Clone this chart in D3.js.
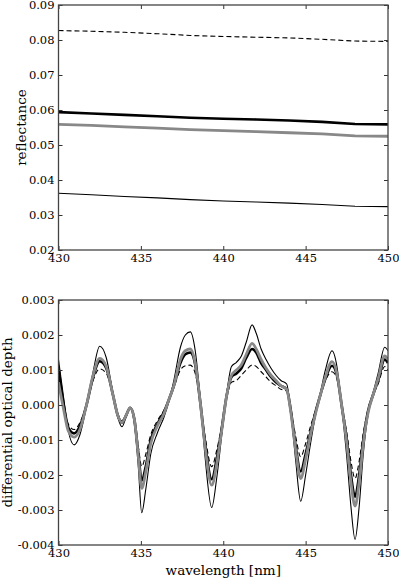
<!DOCTYPE html>
<html>
<head>
<meta charset="utf-8">
<script src="https://cdn.jsdelivr.net/npm/d3@7"></script>
<style>
  body { margin: 0; background: #fff; }
  svg text { font-family: "DejaVu Serif", serif; fill: #000; }
</style>
</head>
<body>
<script>
// ---- data: top panel (reflectance) ----
const reflWl = [430, 432, 434, 436, 438, 440, 442, 444, 446, 448, 450];
const reflDashed = [0.0827, 0.0825, 0.0822, 0.0818, 0.0813, 0.0810, 0.0808, 0.0806, 0.0802, 0.0797, 0.0796];
const reflThick = [0.0594, 0.0590, 0.0586, 0.0582, 0.0578, 0.0575, 0.0573, 0.0570, 0.0566, 0.0560, 0.0559];
const reflGray = [0.0559, 0.0556, 0.0552, 0.0548, 0.0544, 0.0541, 0.0538, 0.0535, 0.0532, 0.0526, 0.0525];
const reflThin = [0.0362, 0.0358, 0.0353, 0.0349, 0.0344, 0.0340, 0.0337, 0.0334, 0.0330, 0.0325, 0.0324];

// ---- data: bottom panel (differential optical depth, in units of 1e-3) ----
const odWl = [430.0, 430.3, 430.6, 430.95, 431.3, 431.7, 432.1, 432.5, 432.9, 433.3, 433.6, 433.85,
  434.1, 434.35, 434.6, 434.85, 435.05, 435.3, 435.6, 436.0, 436.4, 436.7, 437.0, 437.4, 437.7,
  438.0, 438.3, 438.6, 438.9, 439.3, 439.6, 439.9, 440.2, 440.5, 440.8, 441.1, 441.4, 441.75,
  442.0, 442.3, 442.6, 442.9, 443.2, 443.5, 443.85, 444.1, 444.4, 444.7, 445.0, 445.3, 445.6,
  445.9, 446.2, 446.6, 446.9, 447.2, 447.5, 447.75, 448.0, 448.25, 448.5, 448.8, 449.1, 449.4,
  449.8, 450.0];
const odThin = [1.30, 0.25, -0.75, -1.14, -0.85, -0.05, 0.95, 1.68, 1.35, 0.35, -0.35, -0.62,
  -0.35, -0.07, -0.5, -1.8, -3.08, -2.4, -1.4, -0.8, -0.35, 0.1, 0.7, 1.65, 2.0,
  2.09, 1.55, 0.2, -1.5, -2.93, -2.1, -0.9, 0.3, 1.1, 1.22, 1.4, 1.8, 2.29,
  2.05, 1.6, 1.3, 1.05, 0.85, 0.7, 0.6, -0.2, -1.6, -2.75, -2.0, -1.1, -0.3,
  0.35, 1.0, 1.55, 1.1, -0.1, -1.5, -2.9, -3.84, -2.9, -1.4, -0.25, 0.35, 0.9,
  1.65, 1.55];
const odGray = [0.65, -0.1, -0.75, -0.92, -0.7, 0.0, 0.85, 1.33, 1.1, 0.3, -0.3, -0.5,
  -0.3, -0.08, -0.4, -1.5, -2.38, -1.9, -1.1, -0.6, -0.25, 0.15, 0.55, 1.3, 1.55,
  1.6, 1.2, 0.1, -1.2, -2.29, -1.7, -0.75, 0.25, 0.85, 1.0, 1.15, 1.45, 1.76,
  1.6, 1.3, 1.05, 0.85, 0.7, 0.55, 0.45, -0.2, -1.3, -2.1, -1.55, -0.85, -0.25,
  0.3, 0.8, 1.24, 0.9, -0.05, -1.1, -2.2, -2.89, -2.2, -1.1, -0.2, 0.3, 0.75,
  1.4, 1.3];
const odThick = [1.05, 0.05, -0.65, -0.81, -0.6, 0.0, 0.8, 1.25, 1.05, 0.3, -0.3, -0.5,
  -0.3, -0.08, -0.4, -1.4, -2.16, -1.75, -1.0, -0.55, -0.2, 0.15, 0.55, 1.2, 1.45,
  1.5, 1.15, 0.1, -1.1, -2.12, -1.55, -0.7, 0.25, 0.8, 0.9, 1.05, 1.35, 1.6,
  1.5, 1.2, 1.0, 0.8, 0.65, 0.55, 0.45, -0.15, -1.2, -1.9, -1.4, -0.8, -0.2,
  0.3, 0.75, 1.12, 0.85, -0.05, -1.0, -2.0, -2.62, -2.0, -1.0, -0.15, 0.3, 0.7,
  1.3, 1.2];
const odDashed = [0.9, 0.0, -0.55, -0.7, -0.5, 0.0, 0.7, 1.03, 0.9, 0.3, -0.25, -0.45,
  -0.28, -0.08, -0.35, -1.2, -1.76, -1.4, -0.85, -0.45, -0.15, 0.15, 0.5, 1.0, 1.12,
  1.14, 0.9, 0.05, -0.9, -1.76, -1.3, -0.6, 0.2, 0.65, 0.7, 0.85, 1.0, 1.14,
  1.1, 0.95, 0.8, 0.65, 0.55, 0.45, 0.4, -0.1, -0.9, -1.48, -1.1, -0.6, -0.15,
  0.3, 0.7, 0.95, 0.75, 0.0, -0.8, -1.6, -2.1, -1.6, -0.8, -0.1, 0.3, 0.6,
  1.1, 1.0];

const xTicks = [430, 435, 440, 445, 450];
const reflTicks = [0.02, 0.03, 0.04, 0.05, 0.06, 0.07, 0.08, 0.09];
const odTicks = [-0.004, -0.003, -0.002, -0.001, 0, 0.001, 0.002, 0.003];

const width = 399, height = 579;
const left = 58.5, right = 388;

const svg = d3.select("body").append("svg")
    .attr("width", width)
    .attr("height", height);

const styles = {
    thin:   {stroke: "#000", width: 1.1, dash: null},
    thick:  {stroke: "#000", width: 2.6, dash: null},
    gray:   {stroke: "#888", width: 2.8, dash: null},
    dashed: {stroke: "#000", width: 1.1, dash: "5,3"}
};

function panel(top, bottom, yDomain, yTicks, yFmt, ylabel, series, wl, curve) {
    let x = d3.scaleLinear().domain([430, 450]).range([left, right]);
    let y = d3.scaleLinear().domain(yDomain).range([bottom, top]);

    let g = svg.append("g");

    g.append("defs").append("clipPath")
        .attr("id", "clip" + top)
        .append("rect")
        .attr("x", left).attr("y", top)
        .attr("width", right - left).attr("height", bottom - top);

    let line = d3.line()
        .x(function (d) { return x(d[0]); })
        .y(function (d) { return y(d[1]); })
        .curve(curve);

    let lines = g.append("g").attr("clip-path", "url(#clip" + top + ")");
    series.forEach(function (s) {
        let st = styles[s.style];
        lines.append("path")
            .datum(wl.map(function (w, i) { return [w, s.values[i]]; }))
            .attr("d", line)
            .attr("fill", "none")
            .attr("stroke", st.stroke)
            .attr("stroke-width", st.width)
            .attr("stroke-dasharray", st.dash)
            .attr("stroke-linejoin", "round");
    });

    // axes with inward ticks on all sides
    let axB = d3.axisBottom(x).tickValues(xTicks).tickSizeInner(-4).tickSizeOuter(0).tickPadding(4).tickFormat(d3.format("d"));
    let axT = d3.axisTop(x).tickValues(xTicks).tickSizeInner(-4).tickSizeOuter(0).tickFormat("");
    let axL = d3.axisLeft(y).tickValues(yTicks).tickSizeInner(-4).tickSizeOuter(0).tickPadding(4).tickFormat(yFmt);
    let axR = d3.axisRight(y).tickValues(yTicks).tickSizeInner(-4).tickSizeOuter(0).tickFormat("");

    [[axB, "translate(0," + bottom + ")"], [axT, "translate(0," + top + ")"],
     [axL, "translate(" + left + ",0)"], [axR, "translate(" + right + ",0)"]].forEach(function (a) {
        let ga = g.append("g").attr("transform", a[1]).call(a[0]);
        ga.select(".domain").remove();
        ga.selectAll(".tick line").attr("stroke", "#333");
        ga.selectAll(".tick text").attr("font-size", 11.5).attr("font-family", "DejaVu Serif").attr("fill", "#000");
    });

    g.append("rect")
        .attr("x", left).attr("y", top)
        .attr("width", right - left).attr("height", bottom - top)
        .attr("fill", "none")
        .attr("stroke", "#444")
        .attr("stroke-width", 1.3);

    g.append("text")
        .attr("transform", "translate(" + ylabel.x + "," + ((top + bottom) / 2) + ")rotate(-90)")
        .attr("text-anchor", "middle")
        .attr("font-size", ylabel.size)
        .text(ylabel.text);

    return g;
}

panel(5, 250, [0.02, 0.09], reflTicks, d3.format(".2f"),
    {text: "reflectance", x: 26, size: 13.5},
    [
        {values: reflThin, style: "thin"},
        {values: reflDashed, style: "dashed"},
        {values: reflGray, style: "gray"},
        {values: reflThick, style: "thick"}
    ], reflWl, d3.curveLinear);

const fmtOd = function (d) { return d3.format(".3f")(d).replace("−", "-"); };

panel(300, 545, [-0.004, 0.003], odTicks, fmtOd,
    {text: "differential optical depth", x: 12, size: 13.5},
    [
        {values: odThin.map(function (v) { return v / 1000; }), style: "thin"},
        {values: odDashed.map(function (v) { return v / 1000; }), style: "dashed"},
        {values: odThick.map(function (v) { return v / 1000; }), style: "thick"},
        {values: odGray.map(function (v) { return v / 1000; }), style: "gray"}
    ], odWl, d3.curveMonotoneX);

svg.append("text")
    .attr("x", (left + right) / 2)
    .attr("y", 575)
    .attr("text-anchor", "middle")
    .attr("font-size", 13.5)
    .text("wavelength [nm]");
</script>
</body>
</html>
